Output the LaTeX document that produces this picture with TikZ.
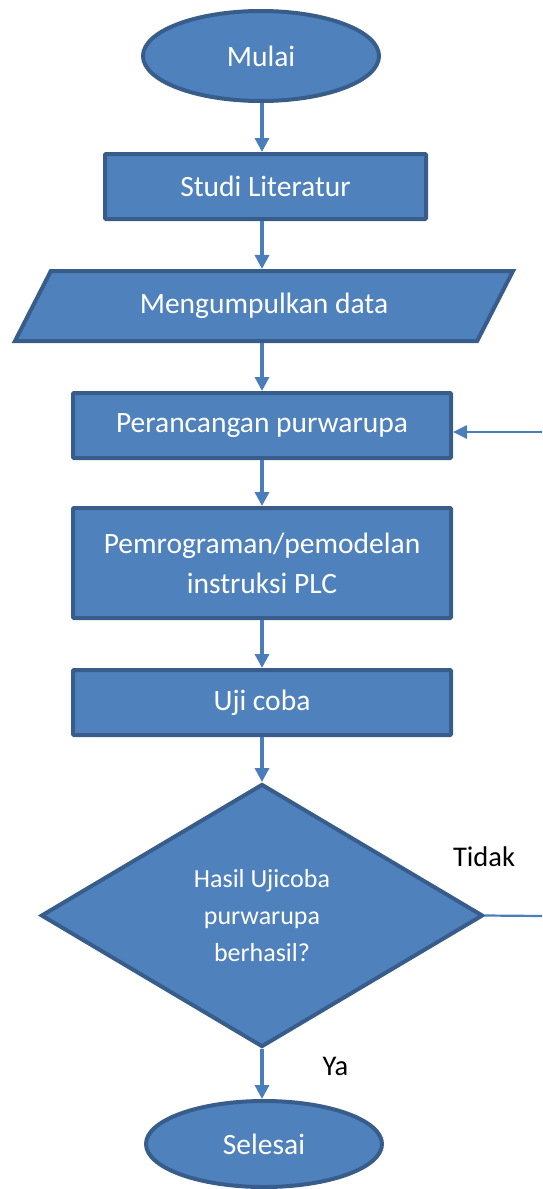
\documentclass[tikz,border=0pt]{standalone}
\usepackage{fontspec}
\setmainfont{Carlito}
\usetikzlibrary{shapes.geometric,arrows.meta}
\definecolor{boxfill}{HTML}{4F81BD}
\definecolor{boxline}{HTML}{385D8A}
\definecolor{arrowcol}{HTML}{4A7EBB}
\tikzset{
  flowshape/.style={fill=boxfill, draw=boxline, line width=4pt, text=white, inner sep=0pt, align=center},
  procbox/.style={flowshape, rectangle, rounded corners=1pt, font=\fontsize{29.5}{40}\selectfont},
  termbox/.style={flowshape, ellipse, font=\fontsize{29.5}{34}\selectfont},
  iobox/.style={flowshape, trapezium, trapezium left angle=35.5, trapezium right angle=144.5,
    trapezium stretches body, font=\fontsize{29.5}{34}\selectfont},
  decbox/.style={flowshape, diamond, aspect=1.675, font=\fontsize{26}{37}\selectfont},
  arr/.style={draw=arrowcol, line width=3.3pt, -{Triangle[length=14pt,width=14pt]}},
  fbline/.style={draw=arrowcol, line width=2.2pt},
  fbarr/.style={draw=arrowcol, line width=2.6pt, -{Triangle[length=14pt,width=13pt]}},
  lbl/.style={text=black, font=\fontsize{28.5}{34}\selectfont, inner sep=0pt}
}
\begin{document}
\begin{tikzpicture}[x=1pt,y=-1pt]
\useasboundingbox (0,0) rectangle (542,1189);
\node[termbox, minimum width=236pt, minimum height=90pt] (mulai) at (261,56) {Mulai};
\node[procbox, minimum width=321pt, minimum height=65pt] (studi) at (265.5,186.5) {Studi Literatur};
\node[iobox, minimum width=498pt, minimum height=70pt] (data) at (264,306) {Mengumpulkan data};
\node[procbox, minimum width=378pt, minimum height=65pt] (rancang) at (262,425.5) {Perancangan purwarupa};
\node[procbox, minimum width=378pt, minimum height=110pt] (program) at (262,563) {Pemrograman/pemodelan\\instruksi PLC};
\node[procbox, minimum width=378pt, minimum height=65pt] (uji) at (262,702.5) {Uji coba};
\node[decbox, minimum width=442pt, minimum height=263pt] (dec) at (262,915.5) {Hasil Ujicoba\\purwarupa\\berhasil?};
\node[termbox, minimum width=236pt, minimum height=86pt] (selesai) at (264,1144) {Selesai};
\node[lbl] (tidak) at (484,857) {Tidak};
\node[lbl] (ya) at (335.5,1066) {Ya};
\coordinate (fbR) at (542,916);
\coordinate (fbT) at (542,432);
\draw[arr] (mulai.south -| 262,0) -- (262,0 |- studi.north);
\draw[arr] (studi.south -| 262,0) -- (262,0 |- data.north);
\draw[arr] (data.south -| 262,0) -- (262,0 |- rancang.north);
\draw[arr] (rancang.south) -- (program.north);
\draw[arr] (program.south) -- (uji.north);
\draw[arr] (uji.south) -- (dec.north);
\draw[arr] (dec.south) -- (dec.south |- selesai.north);
\draw[fbline] (dec.east) -- (fbR);
\draw[fbarr] (fbT) -- (rancang.east |- fbT);
\end{tikzpicture}
\end{document}
